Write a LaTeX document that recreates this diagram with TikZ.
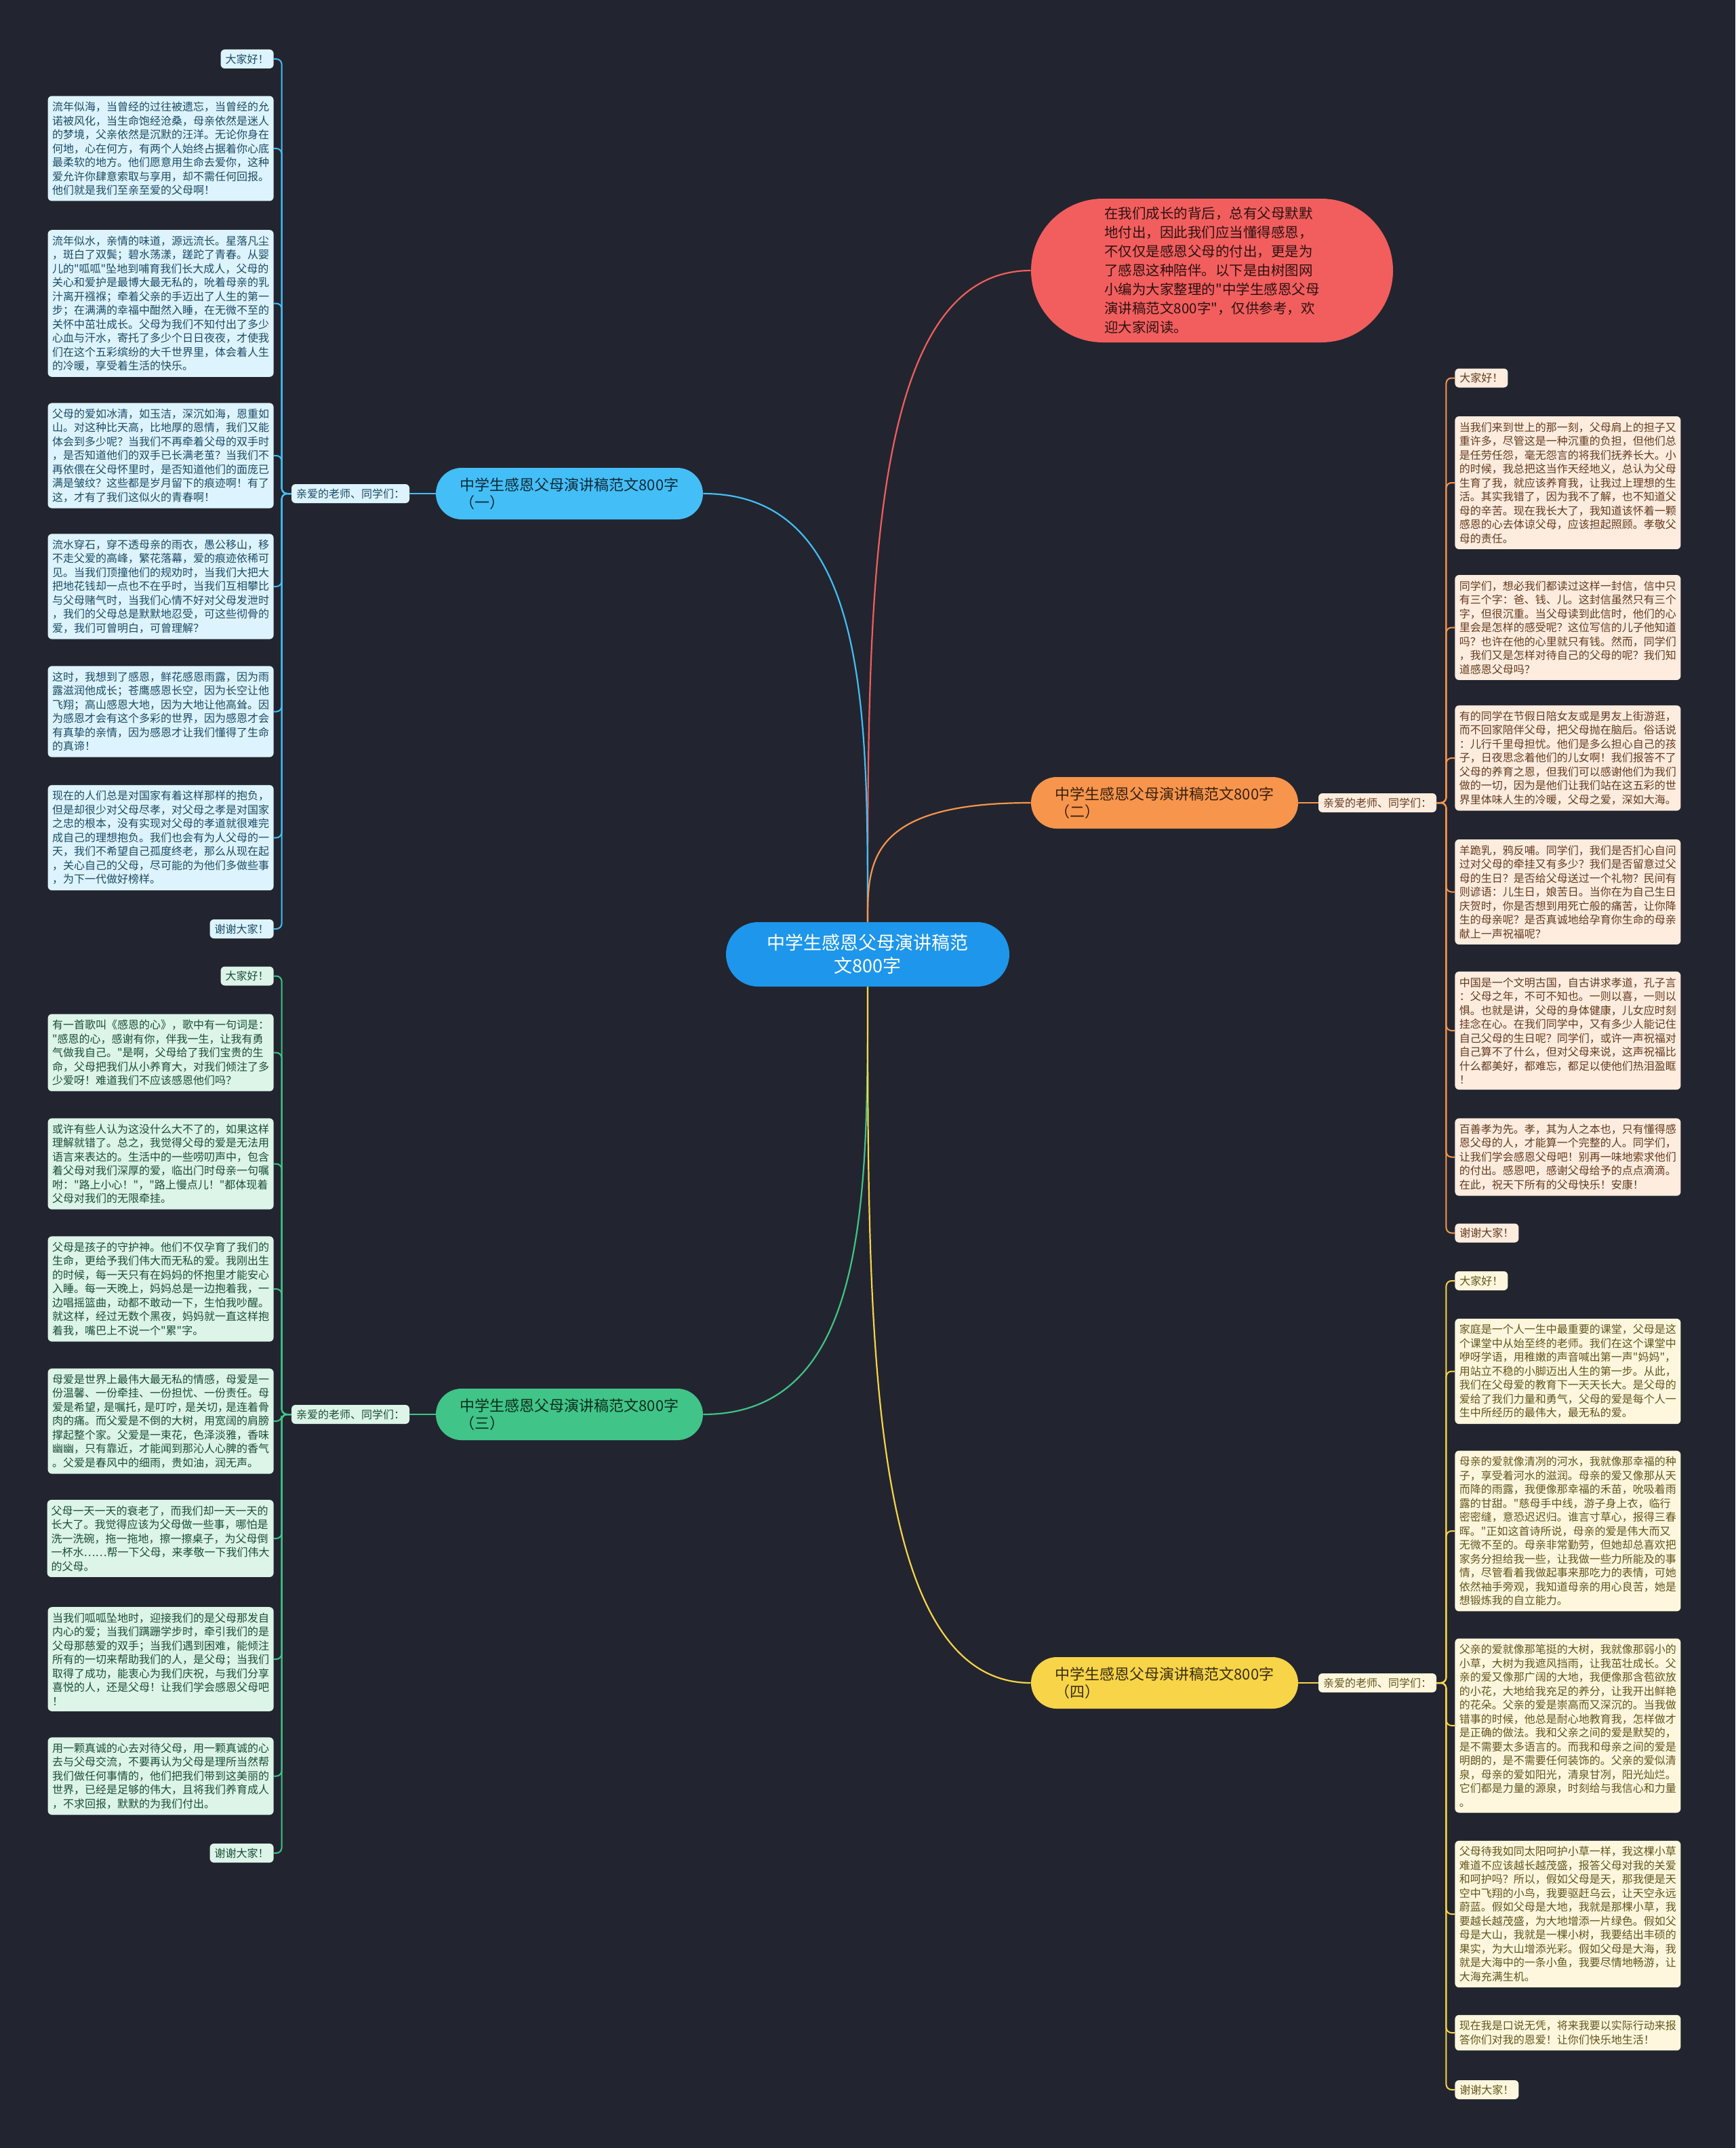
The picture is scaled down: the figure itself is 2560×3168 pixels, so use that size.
\documentclass[tikz,border=0pt]{standalone}
\usepackage{fontspec}
\newfontfamily\cjk{Noto Sans CJK SC}
\usetikzlibrary{calc}
\definecolor{bgnavy}{HTML}{22252F}
\definecolor{rootblue}{HTML}{1E96EB}
\definecolor{cr}{HTML}{F25E5E}
\definecolor{cb}{HTML}{44BEF7}
\definecolor{co}{HTML}{F8954C}
\definecolor{cg}{HTML}{40C487}
\definecolor{cy}{HTML}{F8D448}

\begin{document}
\begin{tikzpicture}[
    x=0.5pt, y=-0.5pt,
    every node/.style={font=\cjk},
    leafbox/.style={
        rectangle, rounded corners=3pt, fill=#1!18!white, text=#1!40!black,
        font=\cjk\fontsize{8}{10.25}\selectfont, align=left,
        minimum width=166.5pt, inner xsep=3pt, inner ysep=4.25pt,
    },
    tagbox/.style={
        rectangle, rounded corners=3pt, fill=#1!18!white, text=#1!40!black,
        font=\cjk\fontsize{8}{10.25}\selectfont,
        inner xsep=3.5pt, inner ysep=0pt, minimum height=14pt,
    },
    topicbox/.style={
        rectangle, rounded corners=19pt, fill=#1, text=#1!22!black,
        font=\cjk\fontsize{11}{13}\selectfont, align=left,
        minimum width=197pt, minimum height=38pt,
    },
    link/.style={line width=1.1pt, color=#1},
    spine/.style={line width=1pt, color=#1, rounded corners=4pt},
]

\fill[bgnavy] (0,0) rectangle (2560,3168);

% ---------------------------------------------------------------- root + intro
\node[fill=rootblue, text=white, rounded corners=23.75pt, minimum width=209pt,
    minimum height=47.5pt, align=center, font=\cjk\fontsize{13.5}{17}\selectfont]
    (root) at (1280,1407.5) {中学生感恩父母演讲稿范\\文800字};

\node[fill=cr, text=cr!18!black, rounded corners=53pt, minimum width=267pt,
    minimum height=106pt, align=left, font=\cjk\fontsize{10.25}{14}\selectfont]
    (intro) at (1788,399)
    {在我们成长的背后，总有父母默默\\地付出，因此我们应当懂得感恩，\\不仅仅是感恩父母的付出，更是为\\了感恩这种陪伴。以下是由树图网\\小编为大家整理的"中学生感恩父母\\演讲稿范文800字"，仅供参考，欢\\迎大家阅读。};

% ---------------------------------------------------------------- topics
\node[topicbox=cb] (t1) at (840,728) {中学生感恩父母演讲稿范文800字\\（一）};
\node[topicbox=co] (t2) at (1718,1184) {中学生感恩父母演讲稿范文800字\\（二）};
\node[topicbox=cg] (t3) at (840,2086) {中学生感恩父母演讲稿范文800字\\（三）};
\node[topicbox=cy] (t4) at (1718,2482) {中学生感恩父母演讲稿范文800字\\（四）};

\node[tagbox=cb] (g1) at (517,728) {亲爱的老师、同学们：};
\node[tagbox=co] (g2) at (2032,1184) {亲爱的老师、同学们：};
\node[tagbox=cg] (g3) at (517,2086) {亲爱的老师、同学们：};
\node[tagbox=cy] (g4) at (2032,2482) {亲爱的老师、同学们：};

% ---------------------------------------------------------------- speech one
\node[tagbox=cb, anchor=east] (l1-0) at (404,87) {大家好！};
\node[leafbox=cb, anchor=east] (l1-1) at (404,219)
    {流年似海，当曾经的过往被遗忘，当曾经的允\\诺被风化，当生命饱经沧桑，母亲依然是迷人\\的梦境，父亲依然是沉默的汪洋。无论你身在\\何地，心在何方，有两个人始终占据着你心底\\最柔软的地方。他们愿意用生命去爱你，这种\\爱允许你肆意索取与享用，却不需任何回报。\\他们就是我们至亲至爱的父母啊！};
\node[leafbox=cb, anchor=east] (l1-2) at (404,447.5)
    {流年似水，亲情的味道，源远流长。星落凡尘\\，斑白了双鬓；碧水荡漾，蹉跎了青春。从婴\\儿的"呱呱"坠地到哺育我们长大成人，父母的\\关心和爱护是最博大最无私的，吮着母亲的乳\\汁离开襁褓；牵着父亲的手迈出了人生的第一\\步；在满满的幸福中酣然入睡，在无微不至的\\关怀中茁壮成长。父母为我们不知付出了多少\\心血与汗水，寄托了多少个日日夜夜，才使我\\们在这个五彩缤纷的大千世界里，体会着人生\\的冷暖，享受着生活的快乐。};
\node[leafbox=cb, anchor=east] (l1-3) at (404,672)
    {父母的爱如冰清，如玉洁，深沉如海，恩重如\\山。对这种比天高，比地厚的恩情，我们又能\\体会到多少呢？当我们不再牵着父母的双手时\\，是否知道他们的双手已长满老茧？当我们不\\再依偎在父母怀里时，是否知道他们的面庞已\\满是皱纹？这些都是岁月留下的痕迹啊！有了\\这，才有了我们这似火的青春啊！};
\node[leafbox=cb, anchor=east] (l1-4) at (404,865)
    {流水穿石，穿不透母亲的雨衣，愚公移山，移\\不走父爱的高峰，繁花落幕，爱的痕迹依稀可\\见。当我们顶撞他们的规劝时，当我们大把大\\把地花钱却一点也不在乎时，当我们互相攀比\\与父母赌气时，当我们心情不好对父母发泄时\\，我们的父母总是默默地忍受，可这些彻骨的\\爱，我们可曾明白，可曾理解？};
\node[leafbox=cb, anchor=east] (l1-5) at (404,1049.5)
    {这时，我想到了感恩，鲜花感恩雨露，因为雨\\露滋润他成长；苍鹰感恩长空，因为长空让他\\飞翔；高山感恩大地，因为大地让他高耸。因\\为感恩才会有这个多彩的世界，因为感恩才会\\有真挚的亲情，因为感恩才让我们懂得了生命\\的真谛！};
\node[leafbox=cb, anchor=east] (l1-6) at (404,1235.5)
    {现在的人们总是对国家有着这样那样的抱负，\\但是却很少对父母尽孝，对父母之孝是对国家\\之忠的根本，没有实现对父母的孝道就很难完\\成自己的理想抱负。我们也会有为人父母的一\\天，我们不希望自己孤度终老，那么从现在起\\，关心自己的父母，尽可能的为他们多做些事\\，为下一代做好榜样。};
\node[tagbox=cb, anchor=east] (l1-7) at (404,1370) {谢谢大家！};

% ---------------------------------------------------------------- speech two
\node[tagbox=co, anchor=west] (l2-0) at (2146,557.5) {大家好！};
\node[leafbox=co, anchor=west] (l2-1) at (2146,712)
    {当我们来到世上的那一刻，父母肩上的担子又\\重许多，尽管这是一种沉重的负担，但他们总\\是任劳任怨，毫无怨言的将我们抚养长大。小\\的时候，我总把这当作天经地义，总认为父母\\生育了我，就应该养育我，让我过上理想的生\\活。其实我错了，因为我不了解，也不知道父\\母的辛苦。现在我长大了，我知道该怀着一颗\\感恩的心去体谅父母，应该担起照顾。孝敬父\\母的责任。};
\node[leafbox=co, anchor=west] (l2-2) at (2146,925.5)
    {同学们，想必我们都读过这样一封信，信中只\\有三个字：爸、钱、儿。这封信虽然只有三个\\字，但很沉重。当父母读到此信时，他们的心\\里会是怎样的感受呢？这位写信的儿子他知道\\吗？也许在他的心里就只有钱。然而，同学们\\，我们又是怎样对待自己的父母的呢？我们知\\道感恩父母吗？};
\node[leafbox=co, anchor=west] (l2-3) at (2146,1118)
    {有的同学在节假日陪女友或是男友上街游逛，\\而不回家陪伴父母，把父母抛在脑后。俗话说\\：儿行千里母担忧。他们是多么担心自己的孩\\子，日夜思念着他们的儿女啊！我们报答不了\\父母的养育之恩，但我们可以感谢他们为我们\\做的一切，因为是他们让我们站在这五彩的世\\界里体味人生的冷暖，父母之爱，深如大海。};
\node[leafbox=co, anchor=west] (l2-4) at (2146,1315.5)
    {羊跪乳，鸦反哺。同学们，我们是否扪心自问\\过对父母的牵挂又有多少？我们是否留意过父\\母的生日？是否给父母送过一个礼物？民间有\\则谚语：儿生日，娘苦日。当你在为自己生日\\庆贺时，你是否想到用死亡般的痛苦，让你降\\生的母亲呢？是否真诚地给孕育你生命的母亲\\献上一声祝福呢？};
\node[leafbox=co, anchor=west] (l2-5) at (2146,1520)
    {中国是一个文明古国，自古讲求孝道，孔子言\\：父母之年，不可不知也。一则以喜，一则以\\惧。也就是讲，父母的身体健康，儿女应时刻\\挂念在心。在我们同学中，又有多少人能记住\\自己父母的生日呢？同学们，或许一声祝福对\\自己算不了什么，但对父母来说，这声祝福比\\什么都美好，都难忘，都足以使他们热泪盈眶\\！};
\node[leafbox=co, anchor=west] (l2-6) at (2146,1706.5)
    {百善孝为先。孝，其为人之本也，只有懂得感\\恩父母的人，才能算一个完整的人。同学们，\\让我们学会感恩父母吧！别再一味地索求他们\\的付出。感恩吧，感谢父母给予的点点滴滴。\\在此，祝天下所有的父母快乐！安康！};
\node[tagbox=co, anchor=west] (l2-7) at (2146,1818.5) {谢谢大家！};

% ---------------------------------------------------------------- speech three
\node[tagbox=cg, anchor=east] (l3-0) at (404,1439.5) {大家好！};
\node[leafbox=cg, anchor=east] (l3-1) at (404,1552.5)
    {有一首歌叫《感恩的心》，歌中有一句词是：\\"感恩的心，感谢有你，伴我一生，让我有勇\\气做我自己。"是啊，父母给了我们宝贵的生\\命，父母把我们从小养育大，对我们倾注了多\\少爱呀！难道我们不应该感恩他们吗？};
\node[leafbox=cg, anchor=east] (l3-2) at (404,1716.5)
    {或许有些人认为这没什么大不了的，如果这样\\理解就错了。总之，我觉得父母的爱是无法用\\语言来表达的。生活中的一些唠叨声中，包含\\着父母对我们深厚的爱，临出门时母亲一句嘱\\咐："路上小心！"，"路上慢点儿！"都体现着\\父母对我们的无限牵挂。};
\node[leafbox=cg, anchor=east] (l3-3) at (404,1901)
    {父母是孩子的守护神。他们不仅孕育了我们的\\生命，更给予我们伟大而无私的爱。我刚出生\\的时候，每一天只有在妈妈的怀抱里才能安心\\入睡。每一天晚上，妈妈总是一边抱着我，一\\边唱摇篮曲，动都不敢动一下，生怕我吵醒。\\就这样，经过无数个黑夜，妈妈就一直这样抱\\着我，嘴巴上不说一个"累"字。};
\node[leafbox=cg, anchor=east] (l3-4) at (404,2096)
    {母爱是世界上最伟大最无私的情感，母爱是一\\份温馨、一份牵挂、一份担忧、一份责任。母\\爱是希望，\hspace{-.25em}是嘱托，\hspace{-.25em}是叮咛，\hspace{-.25em}是关切，\hspace{-.25em}是连着骨\\肉的痛。而父爱是不倒的大树，用宽阔的肩膀\\撑起整个家。父爱是一束花，色泽淡雅，香味\\幽幽，只有靠近，才能闻到那沁人心脾的香气\\。父爱是春风中的细雨，贵如油，润无声。};
\node[leafbox=cg, anchor=east] (l3-5) at (404,2269)
    {父母一天一天的衰老了，而我们却一天一天的\\长大了。我觉得应该为父母做一些事，哪怕是\\洗一洗碗，拖一拖地，擦一擦桌子，为父母倒\\一杯水……帮一下父母，来孝敬一下我们伟大\\的父母。};
\node[leafbox=cg, anchor=east] (l3-6) at (404,2447)
    {当我们呱呱坠地时，迎接我们的是父母那发自\\内心的爱；当我们蹒跚学步时，牵引我们的是\\父母那慈爱的双手；当我们遇到困难，能倾注\\所有的一切来帮助我们的人，是父母；当我们\\取得了成功，能衷心为我们庆祝，与我们分享\\喜悦的人，还是父母！让我们学会感恩父母吧\\！};
\node[leafbox=cg, anchor=east] (l3-7) at (404,2619.5)
    {用一颗真诚的心去对待父母，用一颗真诚的心\\去与父母交流，不要再认为父母是理所当然帮\\我们做任何事情的，他们把我们带到这美丽的\\世界，已经是足够的伟大，且将我们养育成人\\，不求回报，默默的为我们付出。};
\node[tagbox=cg, anchor=east] (l3-8) at (404,2733) {谢谢大家！};

% ---------------------------------------------------------------- speech four
\node[tagbox=cy, anchor=west] (l4-0) at (2146,1889) {大家好！};
\node[leafbox=cy, anchor=west] (l4-1) at (2146,2022.5)
    {家庭是一个人一生中最重要的课堂，父母是这\\个课堂中从始至终的老师。我们在这个课堂中\\咿呀学语，用稚嫩的声音喊出第一声"妈妈"，\\用站立不稳的小脚迈出人生的第一步。从此，\\我们在父母爱的教育下一天天长大。是父母的\\爱给了我们力量和勇气，父母的爱是每个人一\\生中所经历的最伟大，最无私的爱。};
\node[leafbox=cy, anchor=west] (l4-2) at (2146,2258)
    {母亲的爱就像清冽的河水，我就像那幸福的种\\子，享受着河水的滋润。母亲的爱又像那从天\\而降的雨露，我便像那幸福的禾苗，吮吸着雨\\露的甘甜。"慈母手中线，游子身上衣，临行\\密密缝，意恐迟迟归。谁言寸草心，报得三春\\晖。"正如这首诗所说，母亲的爱是伟大而又\\无微不至的。母亲非常勤劳，但她却总喜欢把\\家务分担给我一些，让我做一些力所能及的事\\情，尽管看着我做起事来那吃力的表情，可她\\依然袖手旁观，我知道母亲的用心良苦，她是\\想锻炼我的自立能力。};
\node[leafbox=cy, anchor=west] (l4-3) at (2146,2545)
    {父亲的爱就像那笔挺的大树，我就像那弱小的\\小草，大树为我遮风挡雨，让我茁壮成长。父\\亲的爱又像那广阔的大地，我便像那含苞欲放\\的小花，大地给我充足的养分，让我开出鲜艳\\的花朵。父亲的爱是崇高而又深沉的。当我做\\错事的时候，他总是耐心地教育我，怎样做才\\是正确的做法。我和父亲之间的爱是默契的，\\是不需要太多语言的。而我和母亲之间的爱是\\明朗的，是不需要任何装饰的。父亲的爱似清\\泉，母亲的爱如阳光，清泉甘冽，阳光灿烂。\\它们都是力量的源泉，时刻给与我信心和力量\\。};
\node[leafbox=cy, anchor=west] (l4-4) at (2146,2823)
    {父母待我如同太阳呵护小草一样，我这棵小草\\难道不应该越长越茂盛，报答父母对我的关爱\\和呵护吗？所以，假如父母是天，那我便是天\\空中飞翔的小鸟，我要驱赶乌云，让天空永远\\蔚蓝。假如父母是大地，我就是那棵小草，我\\要越长越茂盛，为大地增添一片绿色。假如父\\母是大山，我就是一棵小树，我要结出丰硕的\\果实，为大山增添光彩。假如父母是大海，我\\就是大海中的一条小鱼，我要尽情地畅游，让\\大海充满生机。};
\node[leafbox=cy, anchor=west] (l4-5) at (2146,2998)
    {现在我是口说无凭，将来我要以实际行动来报\\答你们对我的恩爱！让你们快乐地生活！};
\node[tagbox=cy, anchor=west] (l4-6) at (2146,3082) {谢谢大家！};

% ---------------------------------------------------------------- links
\draw[link=cr] (root.north) .. controls ($(root.north)!.5!(root.north |- intro.west)$)
    and (root.north |- intro.west) .. (intro.west);
\draw[link=cb] (root.north) .. controls ($(root.north)!.5!(root.north |- t1.east)$)
    and (root.north |- t1.east) .. (t1.east);
\draw[link=co] (root.north) .. controls ($(root.north)!.5!(root.north |- t2.west)$)
    and (root.north |- t2.west) .. (t2.west);
\draw[link=cg] (root.south) .. controls ($(root.south)!.5!(root.south |- t3.east)$)
    and (root.south |- t3.east) .. (t3.east);
\draw[link=cy] (root.south) .. controls ($(root.south)!.5!(root.south |- t4.west)$)
    and (root.south |- t4.west) .. (t4.west);

\draw[link=cb] (t1.west) -- (g1.east);
\draw[link=co] (t2.east) -- (g2.west);
\draw[link=cg] (t3.west) -- (g3.east);
\draw[link=cy] (t4.east) -- (g4.west);

\foreach \i in {0,...,7}
    \draw[spine=cb] (g1.west) -- ++(-14,0) |- (l1-\i.east);
\foreach \i in {0,...,7}
    \draw[spine=co] (g2.east) -- ++(14,0) |- (l2-\i.west);
\foreach \i in {0,...,8}
    \draw[spine=cg] (g3.west) -- ++(-14,0) |- (l3-\i.east);
\foreach \i in {0,...,6}
    \draw[spine=cy] (g4.east) -- ++(14,0) |- (l4-\i.west);

\end{tikzpicture}
\end{document}
